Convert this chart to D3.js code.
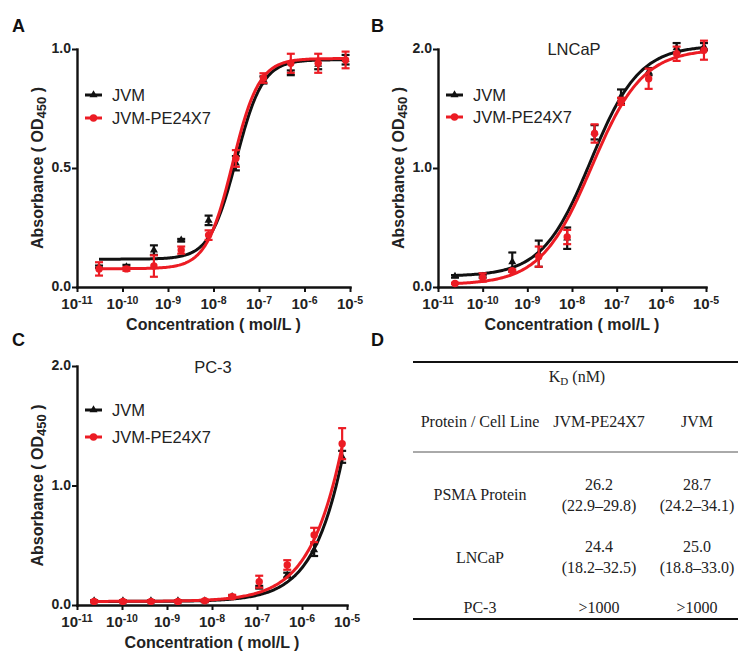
<!DOCTYPE html>
<html><head><meta charset="utf-8">
<script src="https://cdn.jsdelivr.net/npm/d3@7"></script>
<style>body{margin:0;background:#fff}svg{display:block}</style>
</head><body>
<svg id="chart" width="749" height="660"></svg>
<script>
// ---------------- DATA ----------------
const seriesNames = ["JVM", "JVM-PE24X7"];
const xTickValues = [1e-11, 1e-10, 1e-9, 1e-8, 1e-7, 1e-6, 1e-5];
const xTickExponents = ["-11", "-10", "-9", "-8", "-7", "-6", "-5"];
const yTicksA = [0, 0.5, 1.0];
const yTicksBC = [0, 1.0, 2.0];

// Panel A (PSMA protein)
const concA = [3.05e-11, 1.22e-10, 4.9e-10, 1.95e-9, 7.8e-9, 3.1e-8, 1.25e-7, 5e-7, 2e-6, 8e-6];
const jvmA = [0.085, 0.085, 0.155, 0.197, 0.28, 0.52, 0.87, 0.90, 0.935, 0.955];
const jvmAErr = [0.005, 0.008, 0.02, 0.005, 0.02, 0.03, 0.015, 0.01, 0.02, 0.02];
const peA = [0.076, 0.076, 0.088, 0.155, 0.218, 0.54, 0.878, 0.94, 0.94, 0.954];
const peAErr = [0.028, 0.008, 0.045, 0.015, 0.02, 0.035, 0.02, 0.04, 0.04, 0.035];
// 4PL fit: [bottom, top, logEC50, hill]
const fitJvmA = [0.117, 0.955, -7.50, 1.5];
const fitPeA = [0.077, 0.96, -7.58, 1.5];

// Panel B (LNCaP)
const concB = [2.4e-11, 1.0e-10, 4.6e-10, 1.8e-9, 7.8e-9, 3.2e-8, 1.25e-7, 5.2e-7, 2.2e-6, 9e-6];
const jvmB = [0.09, 0.09, 0.21, 0.28, 0.41, 1.30, 1.60, 1.81, 2.01, 2.02];
const jvmBErr = [0.01, 0.01, 0.08, 0.11, 0.09, 0.06, 0.06, 0.03, 0.04, 0.03];
const peB = [0.03, 0.08, 0.137, 0.255, 0.42, 1.29, 1.56, 1.75, 1.96, 1.99];
const peBErr = [0.005, 0.035, 0.01, 0.085, 0.06, 0.077, 0.03, 0.085, 0.06, 0.08];
const fitJvmB = [0.09, 2.03, -7.58, 0.8];
const fitPeB = [0.02, 2.0, -7.56, 0.76];

// Panel C (PC-3)
const concC = [2.4e-11, 1.05e-10, 4.4e-10, 1.75e-9, 6.9e-9, 2.8e-8, 1.12e-7, 4.7e-7, 1.86e-6, 7.8e-6];
const jvmC = [0.035, 0.035, 0.035, 0.035, 0.035, 0.07, 0.15, 0.25, 0.46, 1.24];
const jvmCErr = [0.005, 0.005, 0.005, 0.005, 0.005, 0.01, 0.01, 0.02, 0.05, 0.05];
const peC = [0.03, 0.03, 0.03, 0.03, 0.035, 0.07, 0.195, 0.335, 0.586, 1.35];
const peCErr = [0.008, 0.008, 0.008, 0.008, 0.01, 0.015, 0.05, 0.04, 0.06, 0.13];
const fitJvmC = [0.03, 10, -3.95, 0.75];
const fitPeC = [0.03, 10, -3.93, 0.7];

// Panel D (table)
const tableTitle = "K";
const tableHeader = ["Protein / Cell Line", "JVM-PE24X7", "JVM"];
const tableRowNames = ["PSMA Protein", "LNCaP", "PC-3"];
const kdPE = ["26.2", "24.4", ">1000"];
const ciPE = ["(22.9–29.8)", "(18.2–32.5)", ""];
const kdJVM = ["28.7", "25.0", ">1000"];
const ciJVM = ["(24.2–34.1)", "(18.8–33.0)", ""];

// ---------------- DRAW ----------------
const svg = d3.select("#chart");
const RED = "#ec1c24", BLACK = "#111";
const SANS = "Liberation Sans, Arial, sans-serif";
const SERIF = "Liberation Serif, Times New Roman, serif";

function fourPL(p, logx) {
  const [b, t, l, h] = p;
  return b + (t - b) / (1 + Math.pow(10, (l - logx) * h));
}

function drawPanel(cfg) {
  const g = svg.append("g");
  const x = d3.scaleLog().domain([1e-11, 1e-5]).range([cfg.left, cfg.right]);
  const y = d3.scaleLinear().domain([0, cfg.yMax]).range([cfg.bottom, cfg.top]);

  // axes
  const ax = g.append("g").attr("transform", `translate(0,${cfg.bottom})`)
    .call(d3.axisBottom(x).tickValues(xTickValues).tickFormat("").tickSize(5).tickSizeOuter(0));
  const ay = g.append("g").attr("transform", `translate(${cfg.left},0)`)
    .call(d3.axisLeft(y).tickValues(cfg.yTicks).tickFormat("").tickSize(5).tickSizeOuter(0));
  [ax, ay].forEach(a => {
    a.select(".domain").attr("stroke", "#111").attr("stroke-width", 2.4).attr("stroke-linecap", "square");
    a.selectAll(".tick line").attr("stroke", "#111").attr("stroke-width", 2);
  });

  // x tick labels (10^n)
  xTickValues.forEach((v, i) => {
    const t = g.append("text").attr("x", x(v)).attr("y", cfg.bottom + 22)
      .attr("text-anchor", "middle").attr("font-family", SANS).attr("font-weight", "bold")
      .attr("font-size", 15).attr("fill", "#222");
    t.append("tspan").text("10");
    t.append("tspan").attr("dy", -5).attr("font-size", 10.5).text(xTickExponents[i]);
  });
  // y tick labels
  cfg.yTicks.forEach(v => {
    g.append("text").attr("x", cfg.left - 6).attr("y", y(v)).attr("dy", "0.3em")
      .attr("text-anchor", "end").attr("font-family", SANS).attr("font-weight", "bold")
      .attr("font-size", 14).attr("fill", "#222").text(v.toFixed(1));
  });

  // axis titles
  g.append("text").attr("x", (cfg.left + cfg.right) / 2).attr("y", cfg.bottom + 43)
    .attr("text-anchor", "middle").attr("font-family", SANS).attr("font-weight", "bold")
    .attr("font-size", 16).attr("fill", "#222").text("Concentration ( mol/L )");
  const yt = g.append("text")
    .attr("transform", `translate(${cfg.left - 34},${(cfg.top + cfg.bottom) / 2}) rotate(-90)`)
    .attr("text-anchor", "middle").attr("font-family", SANS).attr("font-weight", "bold")
    .attr("font-size", 16).attr("fill", "#222");
  yt.append("tspan").text("Absorbance ( OD");
  yt.append("tspan").attr("font-size", 13).attr("dy", 3).text("450");
  yt.append("tspan").attr("dy", -3).text(" )");

  // panel letter
  svg.append("text").attr("x", cfg.letterX).attr("y", cfg.letterY)
    .attr("font-family", SANS).attr("font-weight", "bold").attr("font-size", 18)
    .attr("fill", "#111").text(cfg.letter);

  // panel title
  if (cfg.title) {
    g.append("text").attr("x", cfg.titleX).attr("y", cfg.titleY).attr("text-anchor", "middle")
      .attr("font-family", SANS).attr("font-size", 16.5).attr("fill", "#222").text(cfg.title);
  }

  const series = [
    { name: seriesNames[0], color: BLACK, vals: cfg.jvm, err: cfg.jvmErr, fit: cfg.fitJvm, marker: "tri" },
    { name: seriesNames[1], color: RED, vals: cfg.pe, err: cfg.peErr, fit: cfg.fitPe, marker: "circ" }
  ];

  series.forEach(s => {
    const lo = Math.log10(cfg.conc[0]), hi = Math.log10(cfg.conc[cfg.conc.length - 1]);
    const pts = d3.range(0, 201).map(i => {
      const lx = lo + (hi - lo) * i / 200;
      return [x(Math.pow(10, lx)), y(fourPL(s.fit, lx))];
    });
    g.append("path").attr("d", d3.line()(pts)).attr("fill", "none")
      .attr("stroke", s.color).attr("stroke-width", 3);
    cfg.conc.forEach((c, i) => {
      const cx = x(c), y1 = y(s.vals[i] + s.err[i]), y0 = y(s.vals[i] - s.err[i]);
      g.append("line").attr("x1", cx).attr("x2", cx).attr("y1", y0).attr("y2", y1)
        .attr("stroke", s.color).attr("stroke-width", 2.2);
      [y0, y1].forEach(yy => g.append("line").attr("x1", cx - 4).attr("x2", cx + 4)
        .attr("y1", yy).attr("y2", yy).attr("stroke", s.color).attr("stroke-width", 2.2));
      drawMarker(g, s.marker, cx, y(s.vals[i]), s.color);
    });
  });

  // legend
  series.forEach((s, i) => {
    const ly = cfg.legendY[i];
    const lx = cfg.left + 8;
    g.append("line").attr("x1", lx).attr("x2", lx + 17).attr("y1", ly).attr("y2", ly)
      .attr("stroke", s.color).attr("stroke-width", 3);
    drawMarker(g, s.marker, lx + 8.5, ly, s.color);
    g.append("text").attr("x", lx + 27).attr("y", ly).attr("dy", "0.36em")
      .attr("font-family", SANS).attr("font-size", 16.5).attr("fill", "#222").text(s.name);
  });
}

function drawMarker(g, type, cx, cy, color) {
  if (type === "circ") {
    g.append("circle").attr("cx", cx).attr("cy", cy).attr("r", 3.7).attr("fill", color);
  } else {
    g.append("path").attr("d", d3.symbol().type(d3.symbolTriangle).size(28)())
      .attr("transform", `translate(${cx},${cy})`).attr("fill", color);
  }
}

drawPanel({ letter: "A", letterX: 12, letterY: 32, left: 77, right: 350, top: 49, bottom: 287,
  yMax: 1.0, yTicks: yTicksA, conc: concA, jvm: jvmA, jvmErr: jvmAErr, pe: peA, peErr: peAErr,
  fitJvm: fitJvmA, fitPe: fitPeA, legendY: [95, 118] });
drawPanel({ letter: "B", letterX: 371, letterY: 32, left: 438, right: 706, top: 49, bottom: 287,
  yMax: 2.0, yTicks: yTicksBC, conc: concB, jvm: jvmB, jvmErr: jvmBErr, pe: peB, peErr: peBErr,
  fitJvm: fitJvmB, fitPe: fitPeB, legendY: [95, 117], title: "LNCaP", titleX: 574, titleY: 55 });
drawPanel({ letter: "C", letterX: 12, letterY: 346, left: 77, right: 347, top: 366, bottom: 605,
  yMax: 2.0, yTicks: yTicksBC, conc: concC, jvm: jvmC, jvmErr: jvmCErr, pe: peC, peErr: peCErr,
  fitJvm: fitJvmC, fitPe: fitPeC, legendY: [410, 437], title: "PC-3", titleX: 213, titleY: 373 });

// ---------------- TABLE (D) ----------------
svg.append("text").attr("x", 371).attr("y", 346).attr("font-family", SANS).attr("font-weight", "bold")
  .attr("font-size", 18).attr("fill", "#111").text("D");
const tl = 413, tr = 738;
const colX = [480, 599, 697];
const tg = svg.append("g").attr("font-family", SERIF).attr("font-size", 16).attr("fill", "#222")
  .attr("text-anchor", "middle");
tg.append("line").attr("x1", tl).attr("x2", tr).attr("y1", 362).attr("y2", 362).attr("stroke", "#111").attr("stroke-width", 2);
tg.append("line").attr("x1", tl).attr("x2", tr).attr("y1", 452).attr("y2", 452).attr("stroke", "#555").attr("stroke-width", 1);
tg.append("line").attr("x1", tl).attr("x2", tr).attr("y1", 619).attr("y2", 619).attr("stroke", "#111").attr("stroke-width", 2);
const kt = tg.append("text").attr("x", 577).attr("y", 382);
kt.append("tspan").text(tableTitle);
kt.append("tspan").attr("font-size", 11).attr("dy", 3).text("D");
kt.append("tspan").attr("dy", -3).text(" (nM)");
tableHeader.forEach((h, i) => tg.append("text").attr("x", colX[i]).attr("y", 427).text(h));
const rowNameY = [500, 563, 613];
const rowKdY = [490, 552, 613];
const rowCiY = [511, 573, 613];
tableRowNames.forEach((r, i) => {
  tg.append("text").attr("x", colX[0]).attr("y", rowNameY[i]).text(r);
  tg.append("text").attr("x", colX[1]).attr("y", rowKdY[i]).text(kdPE[i]);
  tg.append("text").attr("x", colX[2]).attr("y", rowKdY[i]).text(kdJVM[i]);
  if (ciPE[i]) tg.append("text").attr("x", colX[1]).attr("y", rowCiY[i]).text(ciPE[i]);
  if (ciJVM[i]) tg.append("text").attr("x", colX[2]).attr("y", rowCiY[i]).text(ciJVM[i]);
});
</script>
</body></html>
